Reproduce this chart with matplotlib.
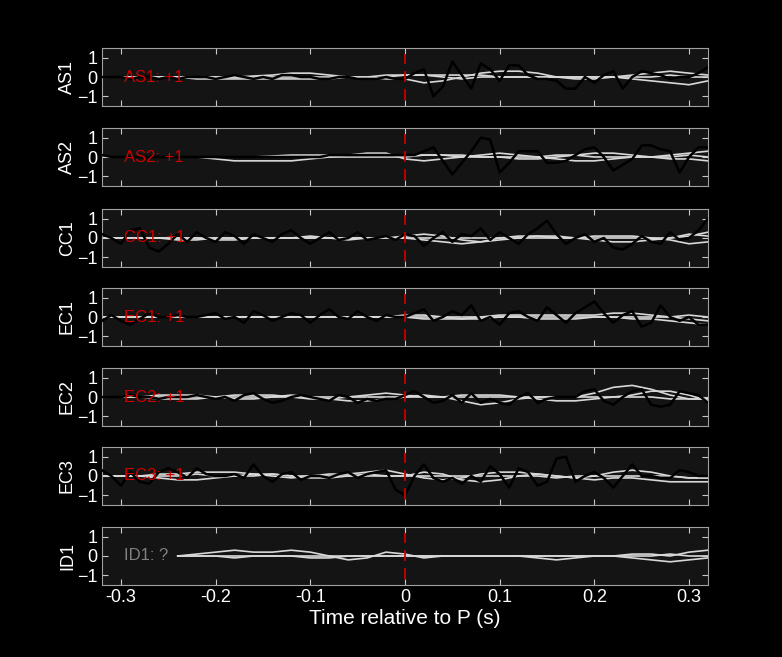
import numpy as np
import matplotlib
matplotlib.use("Agg")
import matplotlib.pyplot as plt

plt.rcParams["font.family"] = ["Liberation Sans", "DejaVu Sans"]

stations = ["AS1", "AS2", "CC1", "EC1", "EC2", "EC3", "ID1"]
polarity = ["+1", "+1", "+1", "+1", "+1", "+1", "?"]

t_black = np.round(np.arange(-0.32, 0.3201, 0.01), 2)
black = {
    "AS1": [0.0, 0.0, 0.0, -0.1, 0.0, 0.0, -0.1, 0.0, -0.1, 0.0, 0.0, 0.0, -0.1, 0.0, 0.1, 0.0,
            -0.1, 0.0, -0.1, 0.1, 0.1, 0.0, 0.0, -0.1, -0.1, 0.0, 0.0, -0.1, -0.1, -0.1, 0.0, -0.1,
            -0.1, 0.2, 0.4, -1.0, -0.5, 0.8, 0.1, -0.6, 0.7, 0.4, -0.2, 0.6, 0.6, 0.1, -0.1, -0.1,
            -0.2, -0.6, -0.6, 0.0, -0.3, 0.1, 0.3, -0.6, 0.0, 0.3, 0.2, 0.1, -0.1, 0.0, 0.0, 0.2, 0.5],
    "AS2": [0.1, 0.0, 0.0, 0.0, 0.0, 0.0, 0.0, 0.0, 0.0, 0.0, 0.0, 0.0, 0.0, 0.0, 0.0, 0.0,
            0.0, 0.0, 0.0, 0.0, 0.0, 0.0, 0.0, 0.0, 0.1, 0.1, 0.1, 0.1, 0.1, 0.1, 0.1, 0.1,
            0.1, 0.1, 0.3, 0.5, -0.2, -0.9, -0.3, 0.3, 1.0, 0.9, -0.8, -0.3, 0.3, 0.3, 0.3, -0.3,
            -0.3, -0.2, 0.1, 0.4, 0.5, 0.0, -0.7, -0.4, -0.1, 0.6, 0.6, 0.4, 0.3, -0.8, 0.0, 0.5, 0.5],
    "CC1": [0.2, 0.0, -0.3, 0.4, 0.5, -0.5, -0.7, -0.3, 0.2, -0.2, 0.3, 0.0, -0.2, 0.3, 0.1, -0.3,
            0.2, 0.0, -0.2, 0.2, 0.4, 0.0, -0.3, 0.0, 0.3, -0.1, 0.0, 0.3, -0.1, 0.0, 0.1, -0.1,
            0.2, 0.1, -0.4, 0.0, 0.3, -0.2, 0.2, 0.1, 0.5, -0.1, 0.3, 0.0, -0.3, 0.2, 0.5, 0.9,
            0.2, -0.3, 0.0, 0.2, -0.2, 0.0, -0.5, -0.6, -0.3, 0.1, -0.2, -0.3, 0.3, -0.1, 0.0, 0.4, 1.0],
    "EC1": [-0.2, 0.1, -0.2, -0.4, -0.1, 0.2, 0.0, 0.0, 0.1, 0.0, 0.0, 0.1, 0.2, -0.1, 0.0, -0.3,
            0.3, 0.1, -0.2, 0.0, 0.2, 0.1, -0.3, 0.1, 0.4, 0.0, -0.1, 0.3, 0.0, -0.2, 0.1, 0.0,
            0.0, 0.2, 0.4, -0.2, 0.0, 0.3, 0.1, 0.6, -0.2, 0.0, -0.4, 0.2, 0.3, 0.0, -0.2, 0.5,
            0.1, -0.3, 0.2, 0.5, 0.8, 0.2, -0.3, 0.1, 0.3, -0.5, -0.3, 0.6, 0.0, -0.2, 0.0, -0.4, -0.4],
    "EC2": [0.0, 0.0, 0.0, 0.1, 0.0, 0.0, -0.1, 0.0, 0.0, 0.0, 0.1, 0.0, -0.1, 0.0, -0.2, 0.1,
            0.2, -0.1, -0.3, -0.2, 0.0, 0.1, 0.0, -0.1, -0.2, 0.1, 0.0, -0.3, -0.1, -0.2, -0.1, -0.1,
            0.1, 0.3, 0.0, -0.3, -0.2, 0.1, -0.3, 0.2, -0.3, -0.1, -0.3, -0.4, 0.0, 0.2, -0.3, -0.1,
            0.0, 0.0, 0.0, 0.3, 0.4, -0.2, -0.4, 0.0, 0.3, 0.4, -0.4, -0.5, -0.4, 0.3, 0.2, 0.1, -0.3],
    "EC3": [0.3, 0.0, -0.5, 0.2, -0.3, -0.4, 0.2, 0.4, 0.2, -0.1, 0.4, 0.1, 0.0, 0.0, 0.1, -0.1,
            0.6, 0.0, -0.3, 0.1, 0.2, -0.2, 0.0, 0.0, -0.1, 0.1, 0.2, -0.1, 0.1, 0.2, 0.3, -0.7,
            -1.0, 0.0, 0.6, -0.1, -0.3, -0.1, -0.4, 0.0, -0.3, 0.5, 0.1, -0.6, 0.4, 0.2, -0.5, -0.3,
            0.9, 1.0, -0.3, 0.0, 0.2, -0.1, -0.6, 0.0, 0.6, 0.0, 0.0, -0.1, -0.1, 0.3, 0.2, 0.0, 0.0],
}

t_gray = np.round(np.arange(-0.32, 0.3201, 0.02), 2)
gray = {
    "AS1": [[0, 0, 0, 0, 0, 0, 0, 0, 0.05, 0.1, 0.2, 0.2, 0.1, 0, 0, -0.1, -0.1, -0.3, -0.2, 0, 0.2, 0.3, 0.3, 0.2, 0, 0, 0, 0, -0.1, -0.2, -0.3, -0.4, -0.2],
            [0, 0, 0, 0, 0, -0.1, -0.1, -0.1, -0.1, -0.1, -0.1, -0.1, -0.1, 0, 0, 0.1, 0.1, 0.1, 0.1, 0.1, 0.1, 0, 0, 0, 0, -0.1, -0.1, 0, 0.1, 0.2, 0.3, 0.2, 0.1],
            [0, 0, 0, 0, 0, 0, 0, 0, 0, 0, 0, 0, 0, 0, -0.1, 0, 0.1, 0.1, 0, -0.1, 0, 0, 0, 0, 0, 0, 0, 0, 0, 0, 0.1, 0, 0]],
    "AS2": [[0, 0, 0, 0, 0, 0, -0.1, -0.2, -0.2, -0.2, -0.2, -0.1, 0, 0.1, 0.1, 0.1, 0.1, 0.1, 0.1, 0.1, 0, 0, -0.1, -0.1, 0, 0.1, 0.2, 0.2, 0.1, 0, 0.1, 0.2, 0.3],
            [0, 0, 0, 0, 0, 0, 0, 0, 0, 0.05, 0.1, 0.1, 0.1, 0.1, 0.2, 0.2, -0.1, -0.2, -0.1, 0, 0.1, 0.2, 0.1, 0, -0.1, -0.2, -0.2, -0.1, 0, 0, -0.1, -0.1, -0.2],
            [0, 0, 0, 0, 0, 0, 0, 0, 0, 0, 0, 0, 0, 0, 0, 0, 0, 0.1, 0.1, 0, 0, 0, 0, 0, 0.1, 0.1, 0, 0, 0, 0, 0, 0.1, 0]],
    "CC1": [[0, 0, 0, 0, -0.1, -0.1, 0, 0, 0, 0, 0, 0, 0, 0, 0, 0, 0.1, 0.2, 0.1, -0.1, -0.2, -0.1, 0, 0.1, 0.1, 0, -0.1, -0.2, -0.2, -0.1, 0, 0.1, 0.3],
            [0, 0, 0, 0, 0, 0, -0.1, -0.1, 0, 0, 0, 0.1, 0, -0.1, 0, 0, 0, -0.1, -0.2, -0.3, -0.2, 0, 0.1, 0.1, 0, 0, 0.1, 0.1, 0.1, 0, -0.1, -0.3, -0.2],
            [0, 0, 0, 0, 0, 0, 0, 0, 0, 0, 0, 0, 0, 0, 0, 0, 0, 0, 0, 0, 0, 0, 0, 0, 0, 0, 0, 0, 0, 0, 0, 0.2, 0.1]],
    "EC1": [[0, 0, 0, 0, 0, 0, 0, 0, 0, 0, 0, 0, 0, 0, 0, 0, 0, -0.1, -0.1, -0.1, 0, 0.1, 0.1, 0.1, 0.1, 0.1, 0.1, 0.2, 0.2, 0.1, 0, -0.1, -0.2],
            [0, 0, 0, 0, 0, 0, 0, 0, 0, 0, 0, 0, 0, 0, 0, 0, 0.1, 0.1, 0, -0.1, -0.1, 0, 0, -0.1, -0.1, -0.1, 0, 0, -0.1, -0.1, -0.2, -0.3, -0.4],
            [0, 0, 0, 0, 0, 0, 0, 0, 0, 0, 0, 0, 0, 0, 0, 0, 0, 0, 0, 0, 0, 0, 0, 0, 0, 0, 0, 0, 0, 0, 0, 0.1, 0]],
    "EC2": [[0, 0, 0, 0.1, 0.1, 0.1, 0, -0.1, -0.1, 0, 0.1, 0, -0.1, -0.2, -0.2, -0.1, 0, 0.1, 0, -0.2, -0.4, -0.3, -0.1, 0, 0, 0, 0.2, 0.5, 0.6, 0.4, 0.1, -0.1, -0.1],
            [0, 0, 0, -0.1, -0.1, -0.1, 0, 0.1, 0.1, 0.1, 0, -0.1, -0.1, 0, 0.1, 0.2, 0.1, 0, 0, 0.1, 0.1, 0.1, 0, -0.1, -0.2, -0.2, -0.1, 0, 0.1, 0.3, 0.3, 0.1, -0.2],
            [0, 0, 0, 0, 0, 0, 0, 0, 0, 0, 0, 0, 0, 0, 0, 0, 0, 0, 0, 0, 0, 0, 0, 0, 0, 0, 0, 0, 0, 0, -0.1, -0.1, -0.1]],
    "EC3": [[0, 0, 0, 0.1, 0.1, 0.2, 0.2, 0.2, 0.1, 0, -0.1, 0, 0.1, 0.1, 0.2, 0.3, 0.1, -0.1, -0.2, -0.1, 0.1, 0.2, 0.2, 0.1, 0, -0.1, 0, 0.2, 0.3, 0.2, 0, -0.1, -0.1],
            [0, 0, 0, -0.1, -0.2, -0.2, -0.1, 0, 0, 0.1, 0, -0.1, -0.1, 0, 0.1, 0, 0, 0.2, 0.1, -0.2, -0.3, -0.2, 0, 0.1, 0, -0.1, -0.2, -0.1, -0.1, -0.2, -0.3, -0.3, -0.3],
            [0, 0, 0, 0, 0, 0.1, 0, 0, 0.1, 0.1, 0, 0, 0, 0, 0, 0, 0, 0, 0, 0, 0, 0, 0, 0, -0.1, 0, 0, 0, 0, 0, 0, -0.1, -0.1]],
    "ID1": [[np.nan, np.nan, np.nan, np.nan, 0, 0.1, 0.2, 0.3, 0.2, 0.2, 0.3, 0.2, 0, -0.2, -0.1, 0.2, 0.1, -0.1, 0, 0, 0, 0, 0, 0, 0, 0, 0, 0, 0.1, 0.1, 0, 0.2, 0.3],
            [np.nan, np.nan, np.nan, np.nan, 0, 0, 0, -0.1, 0, 0, 0, -0.1, -0.1, 0, 0, 0, 0, 0, 0, 0, 0, 0, 0, -0.1, -0.2, -0.1, 0, 0, -0.1, -0.2, -0.3, -0.2, -0.1],
            [np.nan, np.nan, np.nan, np.nan, 0, 0, 0, 0, 0, 0, 0, 0, 0, 0, 0, 0, 0, 0, 0, 0, 0, 0, 0, 0, 0, 0, 0, 0, 0, 0, 0.1, 0, 0]],
}

W, H = 782, 657
fig = plt.figure(figsize=(W / 100, H / 100), dpi=100, facecolor="black")
tops = [48, 128, 209, 288, 368, 447, 527]
ph = 58
left, right = 102, 708
for i, st in enumerate(stations):
    ax = fig.add_axes([left / W, 1 - (tops[i] + ph) / H, (right - left) / W, ph / H])
    ax.set_facecolor("#141414")
    for g in gray[st]:
        ax.plot(t_gray, g, color="#d8d8d8", lw=1.2, zorder=2)
    if st in black:
        ax.plot(t_black, black[st], color="black", lw=1.8, zorder=3)
    ax.plot([0, 0], [-1.2, 1.2], color="#cc0000", lw=1.3, ls=(0, (6, 4)), zorder=4)
    ax.text(-0.297, 0, f"{st}: {polarity[i]}", color="#cc0000" if polarity[i] != "?" else "#808080",
            fontsize=12, va="center", ha="left", zorder=5)
    ax.set_xlim(-0.32, 0.32)
    ax.set_ylim(-1.5, 1.5)
    ax.set_yticks([-1, 0, 1])
    ax.set_xticks([-0.3, -0.2, -0.1, 0, 0.1, 0.2, 0.3])
    ax.tick_params(direction="in", colors="#c8c8c8", labelcolor="white", labelsize=13,
                   top=True, right=True, length=4, pad=3)
    ax.set_ylabel(st, color="white", fontsize=13, labelpad=1)
    for s in ax.spines.values():
        s.set_color("#a0a0a0")
    if i < len(stations) - 1:
        ax.set_xticklabels([])
    else:
        ax.set_xticklabels(["-0.3", "-0.2", "-0.1", "0", "0.1", "0.2", "0.3"])
        ax.set_xlabel("Time relative to P (s)", color="white", fontsize=15, labelpad=2)

fig.savefig("out.png", dpi=100, facecolor="black")
